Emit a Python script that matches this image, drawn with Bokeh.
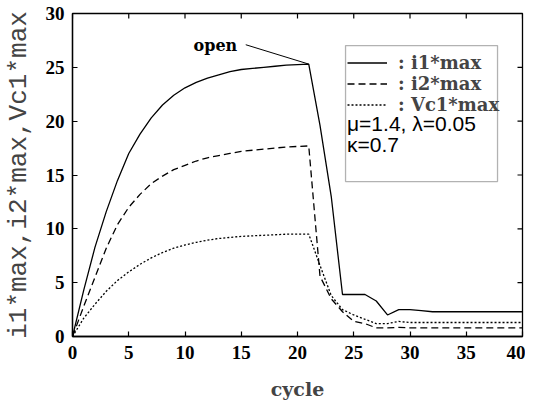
import math
from bokeh.plotting import figure
from bokeh.models import (Range1d, FixedTicker, Legend, LegendItem,
                          Label, BoxAnnotation, Arrow)
from bokeh.embed import file_html
from bokeh.resources import INLINE

# ---- data ----
cycle = list(range(41))
i1_max = [0, 4.3, 8.3, 11.6, 14.5, 17.0, 18.8, 20.3, 21.5, 22.4, 23.1,
          23.6, 24.0, 24.3, 24.6, 24.8, 24.9, 25.0, 25.1, 25.2, 25.25,
          25.3, 19.6, 13.0, 3.9, 3.9, 3.9, 3.3, 2.0, 2.5, 2.5,
          2.4, 2.3, 2.3, 2.3, 2.3, 2.3, 2.3, 2.3, 2.3, 2.3]
i2_max = [0, 2.8, 5.5, 8.2, 10.4, 12.0, 13.2, 14.2, 14.9, 15.5, 15.9,
          16.3, 16.6, 16.8, 17.0, 17.2, 17.3, 17.4, 17.5, 17.6, 17.65,
          17.7, 5.6, 3.5, 2.3, 1.4, 1.2, 0.8, 0.8, 0.85, 0.8,
          0.8, 0.8, 0.8, 0.8, 0.8, 0.8, 0.8, 0.8, 0.8, 0.8]
vc1_max = [0, 1.7, 3.0, 4.2, 5.2, 6.0, 6.7, 7.3, 7.8, 8.2, 8.5,
           8.75, 8.95, 9.1, 9.2, 9.3, 9.35, 9.4, 9.45, 9.5, 9.5,
           9.5, 6.6, 3.8, 2.5, 2.0, 1.6, 1.2, 1.2, 1.4, 1.3,
           1.3, 1.3, 1.3, 1.3, 1.3, 1.3, 1.3, 1.3, 1.3, 1.3]
x_ticks = [0, 5, 10, 15, 20, 25, 30, 35, 40]
y_ticks = [0, 5, 10, 15, 20, 25, 30]
series_labels = [": i1*max", ": i2*max", ": Vc1*max"]
param_lines = ["\u03bc=1.4,  \u03bb=0.05", "\u03ba=0.7"]
open_index = 21

X_MIN, X_MAX = 0, 40
Y_MIN, Y_MAX = 0, 30

TICK_FONT = "Liberation Serif"
TEXT_FONT = "DejaVu Serif"

p = figure(width=525, height=410, output_backend="svg", toolbar_location=None,
           x_range=Range1d(X_MIN, X_MAX), y_range=Range1d(Y_MIN, Y_MAX),
           min_border_left=72, min_border_right=3, min_border_top=13,
           min_border_bottom=74)
p.xgrid.visible = False
p.ygrid.visible = False
p.outline_line_color = "black"
p.outline_line_width = 1.3
p.background_fill_color = "white"
p.border_fill_color = "white"


def style_axis(ax, ticks):
    ax.ticker = FixedTicker(ticks=ticks)
    ax.major_tick_in = 5
    ax.major_tick_out = 0
    ax.minor_tick_in = 0
    ax.minor_tick_out = 0
    ax.axis_line_color = "black"
    ax.axis_line_width = 1.3
    ax.major_tick_line_color = "black"
    ax.major_tick_line_width = 1.2
    ax.major_label_text_font = TICK_FONT
    ax.major_label_text_font_style = "bold"
    ax.major_label_text_font_size = "19px"
    ax.major_label_text_color = "black"


xa = p.below[0]
ya = p.left[0]
style_axis(xa, x_ticks)
style_axis(ya, y_ticks)
xa.major_label_standoff = 9
ya.major_label_standoff = 8
xa.axis_label = "cycle"
xa.axis_label_text_font = TEXT_FONT
xa.axis_label_text_font_style = "bold"
xa.axis_label_text_font_size = "19px"
xa.axis_label_standoff = 16
ya.axis_label = "i1*max,i2*max,Vc1*max"
ya.axis_label_text_font = "Liberation Mono"
ya.axis_label_text_font_style = "normal"
ya.axis_label_text_font_size = "26px"
ya.axis_label_standoff = 9

# inward ticks on the top and right frame edges (clipped to the frame)
p.scatter(x_ticks, [Y_MAX] * len(x_ticks), marker="dash", size=10,
          angle=math.pi / 2, line_color="black", line_width=1.2)
p.scatter([X_MAX] * len(y_ticks), y_ticks, marker="dash", size=10,
          line_color="black", line_width=1.2)

r1 = p.line(cycle, i1_max, line_color="black", line_width=1.3)
r2 = p.line(cycle, i2_max, line_color="black", line_width=1.3, line_dash="7 4")
r3 = p.line(cycle, vc1_max, line_color="black", line_width=1.3, line_dash="2 2")

legend = Legend(items=[LegendItem(label=series_labels[0], renderers=[r1]),
                       LegendItem(label=series_labels[1], renderers=[r2]),
                       LegendItem(label=series_labels[2], renderers=[r3])],
                location=(275, 221))
legend.padding = 0
legend.margin = 0
legend.spacing = -2
legend.glyph_width = 40
legend.glyph_height = 19
legend.label_height = 19
legend.label_standoff = 11
legend.border_line_alpha = 0
legend.background_fill_alpha = 0
legend.label_text_font = TEXT_FONT
legend.label_text_font_style = "bold"
legend.label_text_font_size = "18px"
p.add_layout(legend)

p.add_layout(BoxAnnotation(left=24.27, right=37.78, top=27.02, bottom=14.39,
                           fill_color=None, line_color="black", line_width=1.3))
p.add_layout(Label(x=24.4, y=19.8, text=param_lines[0], text_font="Liberation Sans",
                   text_font_size="21px", text_baseline="middle", text_color="black"))
p.add_layout(Label(x=24.4, y=17.8, text=param_lines[1], text_font="Liberation Sans",
                   text_font_size="21px", text_baseline="middle", text_color="black"))

p.add_layout(Label(x=10.76, y=27.0, text="open", text_font=TEXT_FONT,
                   text_font_style="bold", text_font_size="16px",
                   text_baseline="middle", text_color="black"))
p.add_layout(Arrow(end=None, x_start=15.4, y_start=27.1,
                   x_end=cycle[open_index], y_end=i1_max[open_index],
                   line_color="black", line_width=1))

open("out.html", "w").write(file_html(p, INLINE))
